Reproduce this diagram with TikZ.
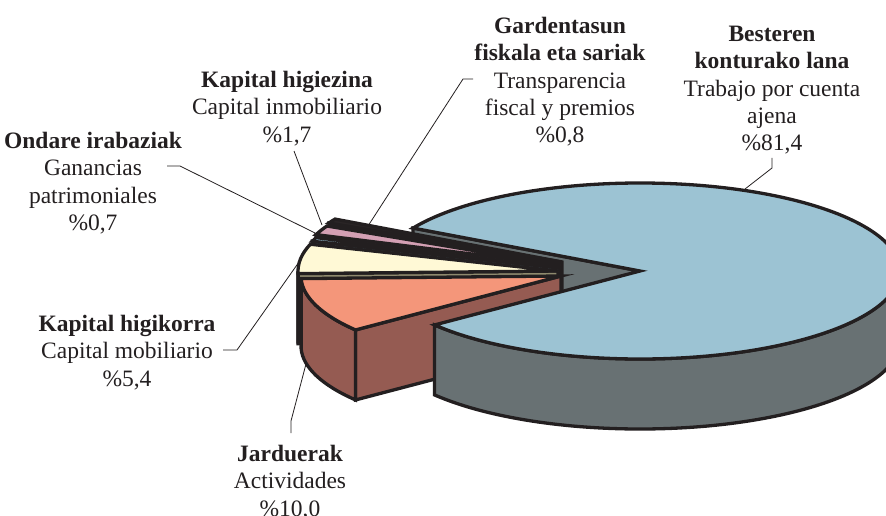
\documentclass[tikz,border=0pt]{standalone}
\usepackage{fontspec}
\setmainfont{Liberation Serif}
\definecolor{outl}{HTML}{231F20}
\definecolor{bigtop}{HTML}{9CC3D3}
\definecolor{bigside}{HTML}{687173}
\definecolor{saltop}{HTML}{F4967A}
\definecolor{salside}{HTML}{955B52}
\definecolor{crtop}{HTML}{FFF9D6}
\definecolor{crside}{HTML}{8F8A6E}
\definecolor{pktop}{HTML}{D4A0B4}
\definecolor{pkside}{HTML}{6E5058}
\definecolor{lbtop}{HTML}{9CC8DC}
\definecolor{lbside}{HTML}{4F6A76}
\definecolor{gdtop}{HTML}{2A2526}
\begin{document}
\begin{tikzpicture}[x=1pt,y=1pt,
  pie/.style={draw=outl, line width=3.3pt, line join=miter},
  E/.style={x radius=260pt, y radius=88pt},
  lbl/.style={align=center, anchor=north, inner sep=0pt, text=outl,
    font=\fontsize{23.5}{27.3}\selectfont},
  leader/.style={draw=outl, line width=0.8pt}]
\useasboundingbox (0,0) rectangle (886,515);
\clip (0,0) rectangle (886,515);
% big slice: radial face
\begin{scope}[shift={(640,244)}]
  \filldraw[pie, fill=bigside] (0,0) -- (150.8:260pt and 88pt) -- ++(0,-70) -- (0,-70) -- cycle;
\end{scope}
% Gardentasun
\begin{scope}[shift={(562,253)}]
  \filldraw[pie, fill=gdtop] (0,0) -- (153.7:260pt and 88pt) -- ++(0,-70) -- (0,-70) -- cycle;
  \filldraw[pie, fill=gdtop] (0,0) -- (150.8:260pt and 88pt) arc[E, start angle=150.8, end angle=153.7] -- cycle;
\end{scope}
% Kapital higiezina
\begin{scope}[shift={(560,250)}]
  \filldraw[pie, fill=pkside] (0,0) -- (159.8:260pt and 88pt) -- ++(0,-70) -- (0,-70) -- cycle;
  \filldraw[pie, fill=pktop] (0,0) -- (153.7:260pt and 88pt) arc[E, start angle=153.7, end angle=159.8] -- cycle;
\end{scope}
% Ondare irabaziak
\begin{scope}[shift={(560,247)}]
  \filldraw[pie, fill=lbside] (0,0) -- (162.3:260pt and 88pt) -- ++(0,-70) -- (0,-70) -- cycle;
  \filldraw[pie, fill=lbtop] (0,0) -- (159.8:260pt and 88pt) arc[E, start angle=159.8, end angle=162.3] -- cycle;
\end{scope}
% Kapital higikorra
\begin{scope}[shift={(558,244)}]
  \filldraw[pie, fill=crside] (0,0) -- (181.7:260pt and 88pt) -- ++(0,-70) -- (0,-70) -- cycle;
  \filldraw[pie, fill=crside] (180:260pt and 88pt) arc[E, start angle=180, end angle=181.7] -- ++(0,-70) arc[E, start angle=181.7, end angle=180] -- cycle;
  \filldraw[pie, fill=crtop] (0,0) -- (162.3:260pt and 88pt) arc[E, start angle=162.3, end angle=181.7] -- cycle;
\end{scope}
% Jarduerak
\begin{scope}[shift={(561,239)}]
  \filldraw[pie, fill=salside] (0,0) -- (217.8:260pt and 88pt) -- ++(0,-70) -- (0,-70) -- cycle;
  \filldraw[pie, fill=salside] (181.7:260pt and 88pt) arc[E, start angle=181.7, end angle=217.8] -- ++(0,-70) arc[E, start angle=217.8, end angle=181.7] -- cycle;
  \filldraw[pie, fill=saltop] (0,0) -- (181.7:260pt and 88pt) arc[E, start angle=181.7, end angle=217.8] -- cycle;
\end{scope}
% big slice: outer side and top
\begin{scope}[shift={(640,244)}]
  \filldraw[pie, fill=bigside] (217.8:260pt and 88pt) arc[E, start angle=217.8, end angle=360] -- ++(0,-70) arc[E, start angle=360, end angle=217.8] -- cycle;
  \filldraw[pie, fill=bigtop] (0,0) -- (217.8:260pt and 88pt) arc[E, start angle=217.8, end angle=510.8] -- cycle;
\end{scope}
% labels
\node[lbl] (besteren) at (772,489) {\textbf{Besteren}\\\textbf{konturako lana}\\Trabajo por cuenta\\ajena\\\%81,4};
\node[lbl] (garden) at (560,498) {\textbf{Gardentasun}\\\textbf{fiskala eta sariak}\\Transparencia\\fiscal y premios\\\%0,8};
\node[lbl] (higiezina) at (287,444) {\textbf{Kapital higiezina}\\Capital inmobiliario\\\%1,7};
\node[lbl] (ondare) at (93,383) {\textbf{Ondare irabaziak}\\Ganancias\\patrimoniales\\\%0,7};
\node[lbl] (higikorra) at (127,200) {\textbf{Kapital higikorra}\\Capital mobiliario\\\%5,4};
\node[lbl] (jarduerak) at (290,70) {\textbf{Jarduerak}\\Actividades\\\%10,0};
% leaders
\coordinate (bA) at (772,357); \coordinate (bB) at (772,347); \coordinate (bE) at (745,326);
\coordinate (gA) at (473,436); \coordinate (gB) at (463,436); \coordinate (gE) at (368,289);
\coordinate (hA) at (294,364); \coordinate (hE) at (322,290);
\coordinate (oA) at (167,349); \coordinate (oB) at (180,349); \coordinate (oE) at (315,282);
\coordinate (kA) at (223,165); \coordinate (kB) at (237,165); \coordinate (kE) at (299,253);
\coordinate (jA) at (291,82); \coordinate (jB) at (291,94); \coordinate (jE) at (306,151);
\draw[leader] (bA) -- (bB) -- (bE);
\draw[leader] (gA) -- (gB) -- (gE);
\draw[leader] (hA) -- (hE);
\draw[leader] (oA) -- (oB) -- (oE);
\draw[leader] (kA) -- (kB) -- (kE);
\draw[leader] (jA) -- (jB) -- (jE);
\end{tikzpicture}
\end{document}
